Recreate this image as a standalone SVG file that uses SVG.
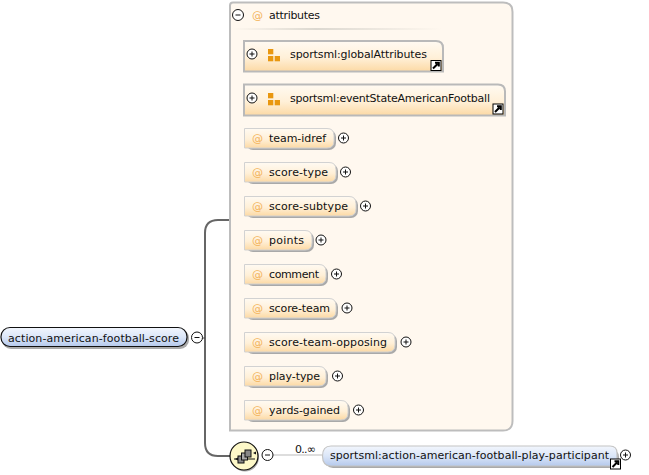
<svg xmlns="http://www.w3.org/2000/svg" width="649" height="475" viewBox="0 0 649 475">
<style>
text{font-family:"DejaVu Sans","Liberation Sans",sans-serif;font-size:11px;fill:#111}
.at{fill:#f3b35a;font-size:11px}
.attr{fill:url(#o);stroke:#d2d2d2;stroke-width:1}
.sh{fill:#a9a9a9}
.grp{fill:url(#o);stroke:#b9b9b9;stroke-width:2}
.c{fill:#fff;stroke:#111;stroke-width:1}
.s{stroke:#111;stroke-width:1;fill:none}
.q{fill:#e9970f}
.conn{fill:none;stroke:#666;stroke-width:2}
</style>
<defs>
<linearGradient id="o" x1="0" y1="0" x2="0" y2="1"><stop offset="0" stop-color="#fffaf2"/><stop offset=".55" stop-color="#fff0d8"/><stop offset="1" stop-color="#fcd9a4"/></linearGradient>
<linearGradient id="b" x1="0" y1="0" x2="0" y2="1"><stop offset="0" stop-color="#f2f6fd"/><stop offset=".5" stop-color="#dbe6f8"/><stop offset="1" stop-color="#b5c9ec"/></linearGradient>
<linearGradient id="hr" x1="0" y1="0" x2="1" y2="0"><stop offset="0" stop-color="#fff8ef"/><stop offset=".4" stop-color="#dcd8d0"/><stop offset="1" stop-color="#fff8ef"/></linearGradient>
<g id="plus"><circle class="c" r="5"/><path class="s" d="M-2.500 0H2.500M0-2.500V2.500"/></g>
<g id="minus"><circle class="c" r="5.500"/><path class="s" d="M-2.500 0H2.500"/></g>
<g id="link"><rect x="-5" y="-5" width="10" height="10" fill="#fff" stroke="#000" stroke-width="1"/><path d="M-3 3L1.500-1.500M-1-2.800H2.800V1" fill="none" stroke="#000" stroke-width="2"/></g>
<g id="qq"><rect class="q" x="0" y="0" width="5.300" height="5.300"/><rect class="q" x="0" y="7" width="5.300" height="5.300"/><rect class="q" x="6.700" y="7" width="5.300" height="5.300"/></g>
</defs>
<rect width="649" height="475" fill="#fff"/>
<g id="connectors">
<path class="conn" d="M230 220H218Q205 220 205 233V443Q205 456 218 456H231"/>
<path d="M272 455H322" fill="none" stroke="#bbb" stroke-width="1"/>
<path d="M201 338H205" fill="none" stroke="#444" stroke-width="1"/>
</g>
<g id="attributes">
<path d="M233 2.500H503Q512.500 2.500 512.500 12V421Q512.500 430.500 503 430.500H230V5.500Q230 2.500 233 2.500Z" fill="#fff8ef" stroke="#bdbdbd" stroke-width="2"/>
<rect x="232" y="28" width="210" height="2" fill="url(#hr)"/>
<use href="#minus" x="238" y="15"/>
<text class="at" x="252" y="19">@</text>
<text x="269" y="19" textLength="51">attributes</text>
</g>
<g id="n-global">
<path class="grp" d="M244 41H436Q443 41 443 48V71.500H244Z"/>
<use href="#plus" x="252" y="54"/><use href="#qq" x="268" y="49"/>
<text x="290" y="58" textLength="137">sportsml:globalAttributes</text>
<use href="#link" x="436" y="65.500"/>
</g>
<g id="n-event">
<path class="grp" d="M244 84.500H498Q505 84.500 505 91.500V115.500H244Z"/>
<use href="#plus" x="252" y="98"/><use href="#qq" x="268" y="93"/>
<text x="290" y="102" textLength="200">sportsml:eventStateAmericanFootball</text>
<use href="#link" x="498" y="109"/>
</g>
<g id="n-team-idref"><rect class="sh" x="246" y="130" width="90" height="20" rx="7"/><path class="attr" d="M244.500 128.500H327Q334 128.500 334 135.500V141Q334 148 327 148H244.500Z"/><text class="at" x="252" y="142">@</text><text x="269" y="142" textLength="57">team-idref</text><use href="#plus" x="343.500" y="138"/></g>
<g id="n-score-type"><rect class="sh" x="246" y="164" width="92" height="20" rx="7"/><path class="attr" d="M244.500 162.500H329Q336 162.500 336 169.500V175Q336 182 329 182H244.500Z"/><text class="at" x="252" y="176">@</text><text x="269" y="176" textLength="59">score-type</text><use href="#plus" x="345.500" y="172"/></g>
<g id="n-score-subtype"><rect class="sh" x="246" y="198" width="112" height="20" rx="7"/><path class="attr" d="M244.500 196.500H349Q356 196.500 356 203.500V209Q356 216 349 216H244.500Z"/><text class="at" x="252" y="210" >@</text><text x="269" y="210" textLength="79">score-subtype</text><use href="#plus" x="365.500" y="206"/></g>
<g id="n-points"><rect class="sh" x="246" y="232" width="68" height="20" rx="7"/><path class="attr" d="M244.500 230.500H305Q312 230.500 312 237.500V243Q312 250 305 250H244.500Z"/><text class="at" x="252" y="244">@</text><text x="269" y="244" textLength="35">points</text><use href="#plus" x="321" y="240"/></g>
<g id="n-comment"><rect class="sh" x="246" y="266" width="82" height="20" rx="7"/><path class="attr" d="M244.500 264.500H319Q326 264.500 326 271.500V277Q326 284 319 284H244.500Z"/><text class="at" x="252" y="278">@</text><text x="269" y="278" textLength="50">comment</text><use href="#plus" x="336.500" y="274"/></g>
<g id="n-score-team"><rect class="sh" x="246" y="300" width="92" height="20" rx="7"/><path class="attr" d="M244.500 298.500H329Q336 298.500 336 305.500V311Q336 318 329 318H244.500Z"/><text class="at" x="252" y="312">@</text><text x="269" y="312" textLength="61">score-team</text><use href="#plus" x="347" y="308"/></g>
<g id="n-score-team-opposing"><rect class="sh" x="246" y="334" width="151" height="20" rx="7"/><path class="attr" d="M244.500 332.500H388Q395 332.500 395 339.500V345Q395 352 388 352H244.500Z"/><text class="at" x="252" y="346">@</text><text x="269" y="346" textLength="118">score-team-opposing</text><use href="#plus" x="406" y="342"/></g>
<g id="n-play-type"><rect class="sh" x="246" y="368" width="82" height="20" rx="7"/><path class="attr" d="M244.500 366.500H319Q326 366.500 326 373.500V379Q326 386 319 386H244.500Z"/><text class="at" x="252" y="380">@</text><text x="269" y="380" textLength="51">play-type</text><use href="#plus" x="337.500" y="376"/></g>
<g id="n-yards-gained"><rect class="sh" x="246" y="402" width="104" height="20" rx="7"/><path class="attr" d="M244.500 400.500H341Q348 400.500 348 407.500V413Q348 420 341 420H244.500Z"/><text class="at" x="252" y="414">@</text><text x="269" y="414" textLength="71">yards-gained</text><use href="#plus" x="358.500" y="410"/></g>
<g id="n-root">
<rect x="2" y="329" width="187" height="20" rx="9" fill="#aaa"/>
<rect x="1" y="327.500" width="186" height="19" rx="9" fill="url(#b)" stroke="#111" stroke-width="1.200"/>
<text x="8" y="341.500" textLength="171">action-american-football-score</text>
<use href="#minus" x="197" y="337.500"/>
</g>
<g id="n-sequence">
<circle cx="245" cy="457.500" r="14" fill="#aaa"/>
<circle cx="244" cy="456" r="14" fill="#fdf8c8" stroke="#111" stroke-width="1.200"/>
<path d="M234 459H255" stroke="#111" stroke-width="1"/>
<path d="M253 453l3-1.500v3zM235 459l3-1.500v3z" fill="#111"/>
<rect x="238" y="456" width="6" height="7" fill="#888" stroke="#111"/><rect x="241.500" y="453" width="6" height="7" fill="#aaa" stroke="#111"/><rect x="245" y="450" width="6" height="7" fill="#888" stroke="#111"/>
<use href="#minus" x="267.500" y="455"/>
<text x="295" y="453" textLength="21">0..∞</text>
</g>
<g id="n-participant">
<rect x="324" y="448" width="295" height="20" rx="9" fill="#aaa"/>
<path d="M331 446H610Q617 446 617 453V466H331Q322.500 466 322.500 456Q322.500 446 331 446Z" fill="url(#b)" stroke="#c4c4c4" stroke-width="1.200"/>
<text x="330" y="459" textLength="279">sportsml:action-american-football-play-participant</text>
<use href="#link" x="615.500" y="464"/>
<use href="#plus" x="625.500" y="455"/>
</g>
</svg>
